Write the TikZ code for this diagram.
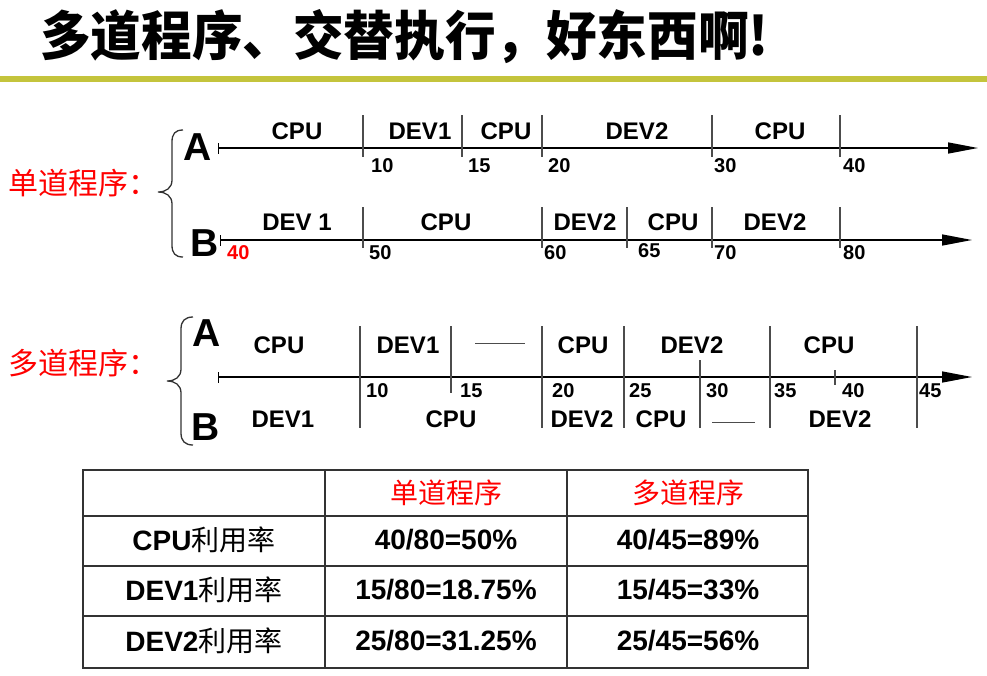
\documentclass[tikz,border=0pt]{standalone}
\usepackage{fontspec}
\setmainfont{Liberation Sans}
\newfontfamily\cjk{Noto Sans CJK SC}
\newfontfamily\cjktitle{Noto Sans CJK SC}[FakeStretch=0.955]
\usetikzlibrary{arrows.meta}
\definecolor{olivebar}{RGB}{196,196,60}
\definecolor{hilite}{RGB}{255,0,0}

\begin{document}
\begin{tikzpicture}[x=1pt,y=-1pt,
  lbl/.style={font=\fontsize{24}{28}\selectfont\bfseries, inner sep=0pt},
  num/.style={font=\fontsize{20}{24}\selectfont\bfseries, inner sep=0pt, anchor=west},
  big/.style={font=\fontsize{39}{44}\selectfont\bfseries, inner sep=0pt},
  side/.style={font=\cjk\fontsize{30}{34}\selectfont, text=hilite, inner sep=0pt, anchor=west},
  axis/.style={line width=1.4pt, arrows={Bar[width=11pt,line width=1.2pt]-Triangle[length=30pt,width=11pt]}},
  tick/.style={line width=1.2pt, black!70},
  gap/.style={line width=1pt, black!70},
  brace/.style={line width=1.3pt, black!80},
  cell/.style={font=\fontsize{28}{32}\selectfont\bfseries, inner sep=0pt},
  head/.style={font=\cjk\fontsize{28}{32}\selectfont, text=hilite, inner sep=0pt},
  grid/.style={line width=1.6pt, black!80}]

\useasboundingbox (0,0) rectangle (987,675);

% heading and rule
\node[anchor=west, inner sep=0pt, font=\cjktitle\bfseries\fontsize{53}{60}\selectfont] (title) at (40,37) {多道程序、交替执行，好东西啊!};
\draw[line width=6pt, olivebar] (0,79) -- (987,79);

% ---------- single programming ----------
\node[side] (single) at (8,183) {单道程序：};
\draw[brace] (183,130) .. controls (175,130) and (172,134) .. (172,142) -- (172,180)
  .. controls (172,188) and (166,192) .. (158,192)
  .. controls (166,192) and (172,196) .. (172,204) -- (172,245)
  .. controls (172,253) and (175,257) .. (183,257);
\node[big] (sA) at (198,147) {A};
\node[big] (sB) at (205,243) {B};

% program A timeline
\coordinate (sa0) at (218,148);
\coordinate (sa1) at (978,148);
\draw[axis] (sa0) -- (sa1);
\foreach \x in {363,462,542,712,840} \draw[tick] (\x,115) -- (\x,157);
\foreach \x/\t [count=\i] in {297/CPU,420/DEV1,506/CPU,637/DEV2,780/CPU}
  \node[lbl] (sal\i) at (\x,131) {\t};
\foreach \x/\t [count=\i] in {371/10,468/15,548/20,714/30,843/40}
  \node[num] (san\i) at (\x,166) {\t};

% program B timeline
\coordinate (sb0) at (220,240);
\coordinate (sb1) at (972,240);
\draw[axis] (sb0) -- (sb1);
\foreach \x in {363,542,627,712,840} \draw[tick] (\x,207) -- (\x,248);
\foreach \x/\t [count=\i] in {297/DEV 1,446/CPU,585/DEV2,673/CPU,775/DEV2}
  \node[lbl] (sbl\i) at (\x,222) {\t};
\node[num, text=hilite] (sbn0) at (227,253) {40};
\foreach \x/\y/\t [count=\i] in {369/253/50,544/253/60,638/251/65,714/253/70,843/253/80}
  \node[num] (sbn\i) at (\x,\y) {\t};

% ---------- multiprogramming ----------
\node[side] (multi) at (8,363) {多道程序：};
\draw[brace] (193,317) .. controls (185,317) and (181,321) .. (181,329) -- (181,369)
  .. controls (181,377) and (175,381) .. (167,381)
  .. controls (175,381) and (181,385) .. (181,393) -- (181,433)
  .. controls (181,441) and (185,445) .. (193,445);
\node[big] (mA) at (207,333) {A};
\node[big] (mB) at (206,427) {B};

\coordinate (ma0) at (218,377);
\coordinate (ma1) at (972,377);
\draw[axis] (ma0) -- (ma1);
\foreach \x in {360,542,624,770,917} \draw[tick] (\x,326) -- (\x,428);
\draw[tick] (451,326) -- (451,393);
\draw[tick] (700,360) -- (700,428);
\draw[tick] (835,370) -- (835,385);

% idle stretches
\coordinate (ia0) at (475,343);
\coordinate (ia1) at (525,343);
\draw[gap] (ia0) -- (ia1);
\coordinate (ib0) at (712,422);
\coordinate (ib1) at (755,422);
\draw[gap] (ib0) -- (ib1);

\foreach \x/\t [count=\i] in {279/CPU,408/DEV1,583/CPU,692/DEV2,829/CPU}
  \node[lbl] (mal\i) at (\x,345) {\t};
\foreach \x/\t [count=\i] in {283/DEV1,451/CPU,582/DEV2,661/CPU,840/DEV2}
  \node[lbl] (mbl\i) at (\x,419) {\t};
\foreach \x/\t [count=\i] in {366/10,460/15,552/20,629/25,706/30,774/35,842/40,919/45}
  \node[num] (mn\i) at (\x,391) {\t};

% ---------- utilisation table ----------
\draw[grid] (83,470) rectangle (808,668);
\foreach \y in {516,566,616} \draw[grid] (83,\y) -- (808,\y);
\foreach \x in {325,567} \draw[grid] (\x,470) -- (\x,668);

\node[head] (h1) at (446,493) {单道程序};
\node[head] (h2) at (688,493) {多道程序};

\node[cell] (r1) at (204,540) {CPU{\cjk\mdseries 利用率}};
\node[cell] (r1a) at (446,540) {40/80=50\%};
\node[cell] (r1b) at (688,540) {40/45=89\%};

\node[cell] (r2) at (204,590) {DEV1{\cjk\mdseries 利用率}};
\node[cell] (r2a) at (446,590) {15/80=18.75\%};
\node[cell] (r2b) at (688,590) {15/45=33\%};

\node[cell] (r3) at (204,641) {DEV2{\cjk\mdseries 利用率}};
\node[cell] (r3a) at (446,641) {25/80=31.25\%};
\node[cell] (r3b) at (688,641) {25/45=56\%};
\end{tikzpicture}
\end{document}
